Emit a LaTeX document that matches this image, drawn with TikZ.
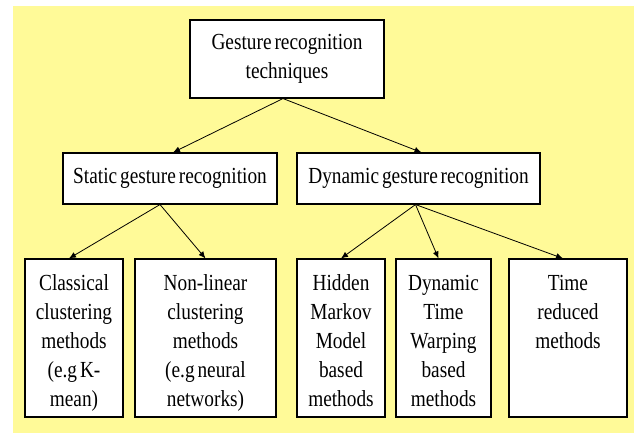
\documentclass[tikz,border=0pt]{standalone}
\usepackage{fontspec}
\setmainfont{Liberation Serif}[FakeStretch=0.84, WordSpace=0.6]
\usepackage{tikz}
\usetikzlibrary{arrows.meta}

\definecolor{bgyellow}{RGB}{255,250,152}
\newcommand{\leaflines}[2]{\parbox[c][158pt][t]{#1}{\centering\rule{0pt}{31pt}#2}}

\tikzset{
  boxnode/.style={draw, line width=1.1pt, fill=white, inner sep=0pt, font=\fontsize{23}{29}\selectfont},
  link/.style={line width=0.8pt, -{Latex[length=7pt,width=6pt]}},
}

\begin{document}
\begin{tikzpicture}[x=1pt,y=1pt,yscale=-1,xscale=1]
\useasboundingbox (0,0) rectangle (634,433);

%Background
\fill [bgyellow] (13,6) rectangle (634,433);

% Text Node
\node [boxnode, align=center, minimum width=194pt, minimum height=78pt] (tech) at (287,59) {Gesture recognition\\techniques};
% Text Node
\node [boxnode, minimum width=214pt, minimum height=51pt] (static) at (170,178.5) {Static gesture recognition};
% Text Node
\node [boxnode, minimum width=243pt, minimum height=51pt] (dynamic) at (418.5,178.5) {Dynamic gesture recognition};

% Text Node
\node [boxnode] (classical) at (74,338) {\leaflines{98pt}{Classical\\clustering\\methods\\(e.g K-\\mean)}};
% Text Node
\node [boxnode] (nonlinear) at (205.5,338) {\leaflines{141pt}{Non-linear\\clustering\\methods\\(e.g neural\\networks)}};
% Text Node
\node [boxnode] (hidden) at (341,338) {\leaflines{88pt}{Hidden\\Markov\\Model\\based\\methods}};
% Text Node
\node [boxnode] (dtw) at (443.5,338) {\leaflines{95pt}{Dynamic\\Time\\Warping\\based\\methods}};
% Text Node
\node [boxnode] (timered) at (568,338) {\leaflines{118pt}{Time\\reduced\\methods}};

%Straight Lines
\draw [link] ([xshift=-4pt]tech.south) -- ([xshift=3pt]static.north);
\draw [link] ([xshift=-4pt]tech.south) -- ([xshift=3pt]dynamic.north);
\draw [link] ([xshift=-10pt]static.south) -- ([xshift=-5pt]classical.north);
\draw [link] ([xshift=-10pt]static.south) -- (nonlinear.north);
\draw [link] ([xshift=-3pt]dynamic.south) -- (hidden.north);
\draw [link] ([xshift=-3pt]dynamic.south) -- ([xshift=-5pt]dtw.north);
\draw [link] ([xshift=-3pt]dynamic.south) -- ([xshift=-5pt]timered.north);

\end{tikzpicture}
\end{document}
